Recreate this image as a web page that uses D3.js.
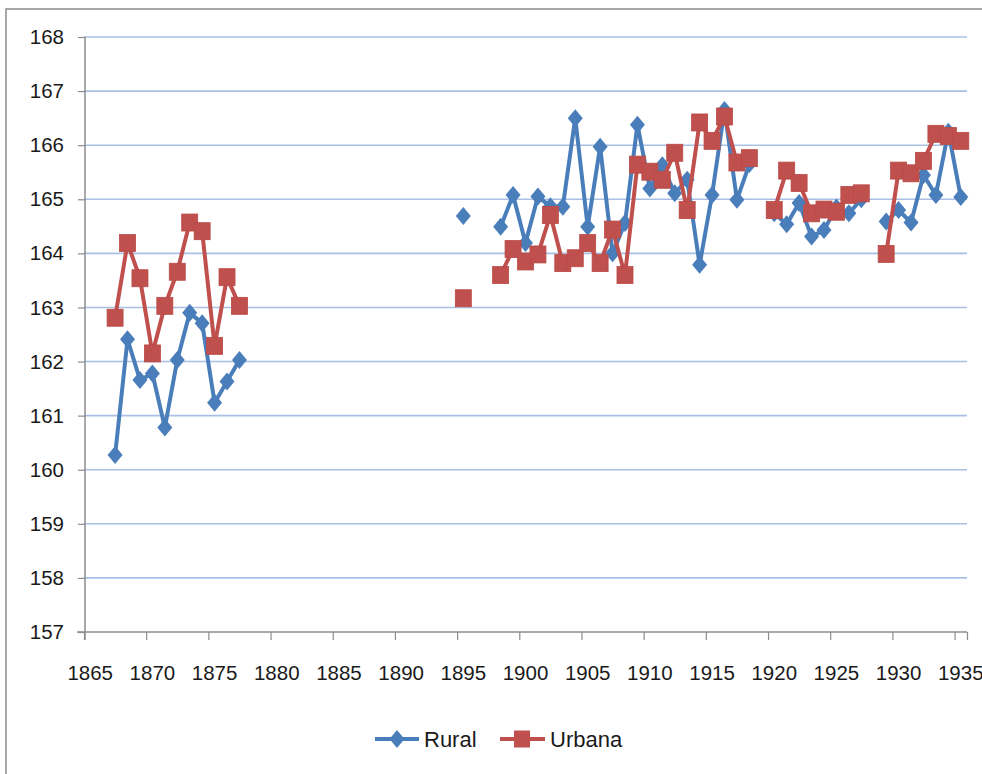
<!DOCTYPE html>
<html>
<head>
<meta charset="utf-8">
<script src="https://cdn.jsdelivr.net/npm/d3@7"></script>
<style>
  html, body { margin: 0; padding: 0; background: #fff; }
  svg { display: block; }
  text { font-family: "Liberation Sans", Arial, sans-serif; fill: #1a1a1a; }
</style>
</head>
<body>
<svg id="chart" width="982" height="774"></svg>
<script>
// ---------- data ----------
const years = [1867,1868,1869,1870,1871,1872,1873,1874,1875,1876,1877,
  1878,1879,1880,1881,1882,1883,1884,1885,1886,1887,1888,1889,1890,1891,1892,1893,1894,
  1895,1896,1897,1898,1899,1900,1901,1902,1903,1904,1905,1906,1907,1908,1909,1910,
  1911,1912,1913,1914,1915,1916,1917,1918,1919,1920,1921,1922,1923,1924,1925,1926,
  1927,1928,1929,1930,1931,1932,1933,1934,1935];
const rural = [160.27,162.41,161.66,161.78,160.78,162.03,162.90,162.71,161.24,161.63,162.03,
  null,null,null,null,null,null,null,null,null,null,null,null,null,null,null,null,null,
  164.69,null,null,164.49,165.08,164.19,165.05,164.87,164.86,166.50,164.49,165.97,164.00,164.56,166.38,165.20,
  165.63,165.11,165.36,163.79,165.08,166.65,164.99,165.65,null,164.74,164.54,164.93,164.31,164.43,164.85,164.74,
  165.00,null,164.59,164.80,164.57,165.45,165.08,166.25,165.04];
const urbana = [162.81,164.19,163.54,162.15,163.03,163.66,164.57,164.41,162.29,163.56,163.03,
  null,null,null,null,null,null,null,null,null,null,null,null,null,null,null,null,null,
  163.17,null,null,163.60,164.08,163.85,163.98,164.71,163.82,163.91,164.19,163.82,164.44,163.60,165.64,165.51,
  165.36,165.86,164.80,166.42,166.08,166.53,165.68,165.76,null,164.80,165.53,165.30,164.74,164.81,164.77,165.08,
  165.11,null,163.99,165.53,165.48,165.71,166.21,166.17,166.08];
const xTickLabels = [1865,1870,1875,1880,1885,1890,1895,1900,1905,1910,1915,1920,1925,1930,1935];
const yTickLabels = [157,158,159,160,161,162,163,164,165,166,167,168];
const seriesNames = ["Rural", "Urbana"];

// ---------- layout ----------
const svg = d3.select("#chart");
const plot = { left: 84, right: 967, top: 37, bottom: 632 };
const blue = "#4A7EBB", red = "#C0504D";

// category axis: each year is one category; ticks at category boundaries
const x = d3.scaleLinear().domain([1865, 1936]).range([plot.left, plot.right]);
const y = d3.scaleLinear().domain([157, 168]).range([plot.bottom, plot.top]);
const cx = yr => x(yr + 0.5);

// frame
svg.append("rect").attr("x", 6).attr("y", 9).attr("width", 1000).attr("height", 800)
  .attr("fill", "none").attr("stroke", "#8c8c8c").attr("stroke-width", 1.5);

// gridlines
svg.append("g").selectAll("line").data(yTickLabels.filter(v => v > 157)).join("line")
  .attr("x1", plot.left).attr("x2", plot.right)
  .attr("y1", d => y(d)).attr("y2", d => y(d))
  .attr("stroke", "#a9c0e4").attr("stroke-width", 1.6);

// y axis
const yAxis = svg.append("g").attr("transform", `translate(${plot.left + 1},0)`)
  .call(d3.axisLeft(y).tickValues(yTickLabels).tickSize(7).tickPadding(14).tickFormat(d3.format("d")));
yAxis.select(".domain").attr("stroke", "#8c8c8c").attr("stroke-width", 1.5)
  .attr("d", `M0,${plot.top}V${plot.bottom + 8}`);
yAxis.selectAll(".tick line").attr("stroke", "#8c8c8c").attr("stroke-width", 1.2);
yAxis.selectAll(".tick text").attr("font-size", 20.5).attr("fill", "#1a1a1a")
  .style("font-family", '"Liberation Sans", Arial, sans-serif');

// x axis
const xAxis = svg.append("g").attr("transform", `translate(0,${plot.bottom})`)
  .call(d3.axisBottom(x).tickValues(xTickLabels.concat([1936])).tickSize(8).tickFormat(""));
xAxis.select(".domain").attr("stroke", "#8c8c8c").attr("stroke-width", 1.5)
  .attr("d", `M${plot.left - 7},0H${plot.right}`);
xAxis.selectAll(".tick line").attr("stroke", "#8c8c8c").attr("stroke-width", 1.2);
svg.append("g").selectAll("text").data(xTickLabels).join("text")
  .attr("x", d => cx(d)).attr("y", 680)
  .attr("text-anchor", "middle").attr("font-size", 20.5)
  .text(d => d);

// series
function drawSeries(values, color, shape) {
  const pts = years.map((yr, i) => ({ yr, v: values[i] }));
  const line = d3.line().defined(d => d.v != null).x(d => cx(d.yr)).y(d => y(d.v));
  svg.append("path").datum(pts).attr("d", line)
    .attr("fill", "none").attr("stroke", color).attr("stroke-width", 4)
    .attr("stroke-linejoin", "round");
  const g = svg.append("g");
  const valid = pts.filter(d => d.v != null);
  if (shape === "diamond") {
    g.selectAll("path").data(valid).join("path")
      .attr("d", d => { const px = cx(d.yr), py = y(d.v);
        return `M${px},${py - 9}L${px + 7.5},${py}L${px},${py + 9}L${px - 7.5},${py}Z`; })
      .attr("fill", color);
  } else {
    g.selectAll("rect").data(valid).join("rect")
      .attr("x", d => cx(d.yr) - 8).attr("y", d => y(d.v) - 8.5)
      .attr("width", 16).attr("height", 17)
      .attr("fill", color).attr("stroke", "#b94a47").attr("stroke-width", 0.8);
  }
}
drawSeries(rural, blue, "diamond");
drawSeries(urbana, red, "square");

// legend
const leg = svg.append("g");
const ly = 739;
leg.append("line").attr("x1", 375).attr("x2", 419).attr("y1", ly).attr("y2", ly)
  .attr("stroke", blue).attr("stroke-width", 4);
leg.append("path").attr("d", `M397,${ly - 9}L404.5,${ly}L397,${ly + 9}L389.5,${ly}Z`).attr("fill", blue);
leg.append("text").attr("x", 424).attr("y", ly + 8).attr("font-size", 22).text(seriesNames[0]);
leg.append("line").attr("x1", 500).attr("x2", 545).attr("y1", ly).attr("y2", ly)
  .attr("stroke", red).attr("stroke-width", 4);
leg.append("rect").attr("x", 514).attr("y", ly - 8.5).attr("width", 16).attr("height", 17).attr("fill", red);
leg.append("text").attr("x", 550).attr("y", ly + 8).attr("font-size", 22).text(seriesNames[1]);
</script>
</body>
</html>
